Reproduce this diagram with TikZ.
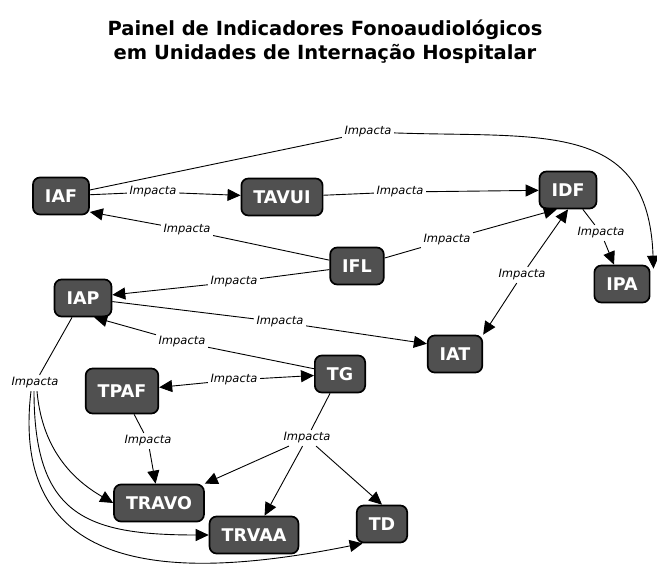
\documentclass[tikz,border=0pt]{standalone}
\usepackage{fontspec}
\setmainfont{DejaVu Sans}
\usetikzlibrary{arrows.meta}
\definecolor{boxgray}{RGB}{80,80,80}

\begin{document}
\begin{tikzpicture}[x=1pt, y=1pt,
        ind/.style={draw=black, line width=1.7pt, fill=boxgray, rounded corners=7pt, text=white,
            font=\bfseries\fontsize{17.5}{17.5}\selectfont, inner xsep=12pt, minimum height=37pt},
        imp/.style={fill=white, inner sep=2.5pt, font=\itshape\fontsize{11.5}{12}\selectfont},
        lnk/.style={line width=0.9pt},
        arr/.style={line width=0.9pt, -{Triangle[length=13pt,width=12pt]}}]
            \useasboundingbox (0,0) rectangle (657,-564);
            \node[align=center, font=\bfseries\fontsize{19.5}{24}\selectfont] (title) at (325,-42)
                {Painel de Indicadores Fonoaudiológicos\\em Unidades de Internação Hospitalar};
            % indicadores
            \node[ind] (iaf) at (61,-196) {IAF};
            \node[ind] (tavui) at (282,-197) {TAVUI};
            \node[ind] (idf) at (568,-190) {IDF};
            \node[ind] (ipa) at (622,-284) {IPA};
            \node[ind] (ifl) at (357,-266) {IFL};
            \node[ind] (iap) at (83,-298) {IAP};
            \node[ind] (iat) at (455,-354) {IAT};
            \node[ind] (tg) at (340,-374) {TG};
            \node[ind, minimum height=45pt] (tpaf) at (122,-391) {TPAF};
            \node[ind] (travo) at (159,-503) {TRAVO};
            \node[ind] (trvaa) at (254,-535) {TRVAA};
            \node[ind] (td) at (382,-524) {TD};
            % frases de ligacao
            \node[imp] (imp1) at (153,-192) {Impacta};
            \node[imp] (imp2) at (400,-192) {Impacta};
            \node[imp] (imp3) at (368,-132) {Impacta};
            \node[imp] (imp4) at (187,-230) {Impacta};
            \node[imp] (imp5) at (447,-240) {Impacta};
            \node[imp] (imp6) at (234,-282) {Impacta};
            \node[imp] (imp7) at (601,-233) {Impacta};
            \node[imp] (imp8) at (522,-275) {Impacta};
            \node[imp] (imp9) at (280,-322) {Impacta};
            \node[imp] (imp10) at (182,-342) {Impacta};
            \node[imp] (imp11) at (234,-380) {Impacta};
            \node[imp] (imp12) at (148,-441) {Impacta};
            \node[imp] (imp13) at (307,-438) {Impacta};
            \node[imp] (imp14) at (35,-383) {Impacta};
            % ligacoes
            \draw (iaf)--(imp1) [lnk];
            \draw (imp1)--(tavui) [arr];
            \draw (tavui)--(imp2) [lnk];
            \draw (imp2)--(idf) [arr];
            \draw (iaf)--(imp3) [lnk];
            \draw (imp3) to[out=-2, in=92, looseness=1.3] ([xshift=3pt, yshift=-4pt]ipa.north east) [arr];
            \draw (ifl)--(imp4) [lnk];
            \draw (imp4)--(iaf.-29) [arr];
            \draw (ifl)--(imp5) [lnk];
            \draw (imp5)--(idf.240) [arr];
            \draw (ifl)--(imp6) [lnk];
            \draw (imp6)--(iap) [arr];
            \draw (idf)--(imp7) [lnk];
            \draw (imp7)--(ipa) [arr];
            \draw (imp8)--(idf.south) [arr];
            \draw (imp8)--(iat.north east) [arr];
            \draw (iap)--(imp9) [lnk];
            \draw (imp9)--(iat.160) [arr];
            \draw (tg)--(imp10) [lnk];
            \draw (imp10)--(iap.-60) [arr];
            \draw (imp11)--(tpaf) [arr];
            \draw (imp11)--(tg) [arr];
            \draw (tpaf)--(imp12) [lnk];
            \draw (imp12)--(travo) [arr];
            \draw (tg)--(imp13) [lnk];
            \draw (imp13)--(travo.north east) [arr];
            \draw (imp13)--(trvaa) [arr];
            \draw (imp13)--(td.north) [arr];
            \draw (iap)--(imp14) [lnk];
            \draw ([xshift=2pt]imp14.south) to[out=-85, in=150] (travo.west) [arr];
            \draw ([xshift=-1pt]imp14.south) to[out=-90, in=180, looseness=1.4] (trvaa.west) [arr];
            \draw ([xshift=-4pt]imp14.south) .. controls (8,-585) and (190,-578) .. (td.-135) [arr];
        \end{tikzpicture}
\end{document}
